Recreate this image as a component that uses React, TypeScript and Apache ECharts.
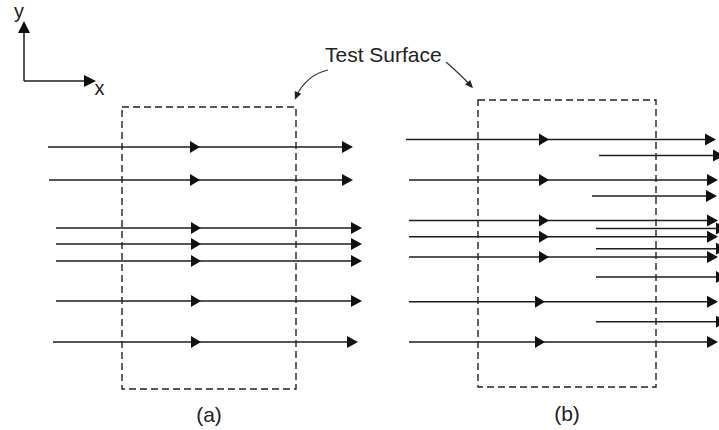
import React, { useEffect, useRef } from "react";
import * as echarts from "echarts";

// ---- Diagram data (canvas units: x 0..719, y 0..430 downward) ----
// Panel (a): full rays [y, xStart, xMidArrowTip, xEndTip]
const raysAY = [147, 180, 228, 244, 261, 301, 342];
const raysAStart = [48, 49, 56, 56, 56, 56, 53];
const raysAMid = [200, 200, 201, 201, 201, 201, 201];
const raysAEnd = [353, 353, 362, 362, 362, 362, 358];

// Panel (b): full rays
const raysBY = [139.5, 180, 220.5, 236.7, 257, 301.7, 342];
const raysBStart = [406, 409, 409, 409, 409, 409, 409];
const raysBMid = [549, 549, 549, 549, 549, 545, 545];
const raysBEnd = [716, 718, 718, 718, 718, 718, 718];

// Panel (b): short rays emerging from the surface
const shortBY = [155.5, 196, 228.5, 248.7, 277, 321.7];
const shortBStart = [599, 592, 596, 596, 596, 596];
const shortBEnd = [724, 717, 727, 727, 727, 727];

// Test surfaces [x1, y1, x2, y2]
const boxX1 = [122, 478];
const boxY1 = [107, 100];
const boxX2 = [296, 656];
const boxY2 = [389, 387];

// Coordinate icon arrows [x1, y1, x2, y2]
const axisArrows = [
  [24, 81, 24, 21],
  [24, 81, 96, 81],
];

// Annotation curves [x1, y1, cpx1, cpy1, cpx2, cpy2, x2, y2]
const curves = [
  [328, 70, 314, 73, 302, 83, 296, 97],
  [446, 62, 454, 69, 463, 77, 471, 86],
];

const LINE = "#1e1e1e";
const HEAD = "#111";

function head(tx: number, ty: number, dx: number, dy: number, L: number, W: number, fill = HEAD) {
  const len = Math.hypot(dx, dy) || 1;
  const ux = dx / len, uy = dy / len;
  const bx = tx - ux * L, by = ty - uy * L;
  const nx = -uy, ny = ux;
  return {
    type: "polygon",
    shape: { points: [[tx, ty], [bx + nx * W, by + ny * W], [bx - nx * W, by - ny * W]] },
    style: { fill },
  };
}

function rayData(ys: number[], s: number[], m: number[], e: number[]) {
  return ys.map((y, i) => [y, s[i], m[i], e[i]]);
}

export default function App() {
  const ref = useRef<HTMLDivElement>(null);
  useEffect(() => {
    if (!ref.current) return;
    const chart = echarts.init(ref.current, undefined, { renderer: "svg" });

    const fullRay = (params: any, api: any) => {
      const y = api.value(0);
      const p0 = api.coord([api.value(1), y]);
      const pm = api.coord([api.value(2), y]);
      const pe = api.coord([api.value(3), y]);
      return {
        type: "group",
        children: [
          { type: "line", shape: { x1: p0[0], y1: p0[1], x2: pe[0] - 5, y2: pe[1] }, style: { stroke: LINE, lineWidth: 1.4 } },
          head(pm[0], pm[1], 1, 0, 10, 6),
          head(pe[0], pe[1], 1, 0, 11, 6),
        ],
      };
    };

    const shortRay = (params: any, api: any) => {
      const y = api.value(0);
      const p0 = api.coord([api.value(1), y]);
      const pe = api.coord([api.value(2), y]);
      return {
        type: "group",
        children: [
          { type: "line", shape: { x1: p0[0], y1: p0[1], x2: pe[0] - 5, y2: pe[1] }, style: { stroke: LINE, lineWidth: 1.4 } },
          head(pe[0], pe[1], 1, 0, 11, 6),
        ],
      };
    };

    const option: any = {
      animation: false,
      backgroundColor: "#fff",
      grid: { left: 0, right: 0, top: 0, bottom: 0 },
      xAxis: { type: "value", min: 0, max: 719, show: false },
      yAxis: { type: "value", min: 0, max: 430, inverse: true, show: false },
      series: [
        {
          type: "custom",
          name: "rays-a",
          clip: false,
          renderItem: fullRay,
          data: rayData(raysAY, raysAStart, raysAMid, raysAEnd),
        },
        {
          type: "custom",
          name: "rays-b",
          clip: false,
          renderItem: fullRay,
          data: rayData(raysBY, raysBStart, raysBMid, raysBEnd),
        },
        {
          type: "custom",
          name: "short-b",
          clip: false,
          renderItem: shortRay,
          data: shortBY.map((y, i) => [y, shortBStart[i], shortBEnd[i]]),
        },
        {
          type: "custom",
          name: "surfaces",
          clip: false,
          renderItem: (params: any, api: any) => {
            const a = api.coord([api.value(0), api.value(1)]);
            const b = api.coord([api.value(2), api.value(3)]);
            return {
              type: "rect",
              shape: { x: a[0], y: a[1], width: b[0] - a[0], height: b[1] - a[1] },
              style: { fill: "none", stroke: "#222", lineWidth: 1.4, lineDash: [7, 4] },
            };
          },
          data: boxX1.map((x, i) => [x, boxY1[i], boxX2[i], boxY2[i]]),
        },
        {
          type: "custom",
          name: "axes-icon",
          clip: false,
          renderItem: (params: any, api: any) => {
            const a = api.coord([api.value(0), api.value(1)]);
            const b = api.coord([api.value(2), api.value(3)]);
            const dx = b[0] - a[0], dy = b[1] - a[1];
            const len = Math.hypot(dx, dy);
            const ex = b[0] - (dx / len) * 6, ey = b[1] - (dy / len) * 6;
            return {
              type: "group",
              children: [
                { type: "line", shape: { x1: a[0], y1: a[1], x2: ex, y2: ey }, style: { stroke: LINE, lineWidth: 1.5 } },
                head(b[0], b[1], dx, dy, 12, 6),
              ],
            };
          },
          data: axisArrows,
        },
        {
          type: "custom",
          name: "callouts",
          clip: false,
          renderItem: (params: any, api: any) => {
            const p1 = api.coord([api.value(0), api.value(1)]);
            const c1 = api.coord([api.value(2), api.value(3)]);
            const c2 = api.coord([api.value(4), api.value(5)]);
            const p2 = api.coord([api.value(6), api.value(7)]);
            const dx = p2[0] - c2[0], dy = p2[1] - c2[1];
            const len = Math.hypot(dx, dy) || 1;
            const tx = p2[0] + (dx / len) * 3, ty = p2[1] + (dy / len) * 3;
            return {
              type: "group",
              children: [
                {
                  type: "bezierCurve",
                  shape: { x1: p1[0], y1: p1[1], cpx1: c1[0], cpy1: c1[1], cpx2: c2[0], cpy2: c2[1], x2: p2[0], y2: p2[1] },
                  style: { fill: "none", stroke: "#333", lineWidth: 1.2 },
                },
                head(tx, ty, dx, dy, 8, 3.5, "#222"),
              ],
            };
          },
          data: curves,
        },
      ],
      graphic: [
        { type: "text", x: 19, y: 11, style: { text: "y", font: "20px 'Liberation Sans', Arial, sans-serif", fill: "#222", align: "center", verticalAlign: "middle" } },
        { type: "text", x: 99.5, y: 88, style: { text: "x", font: "20px 'Liberation Sans', Arial, sans-serif", fill: "#222", align: "center", verticalAlign: "middle" } },
        { type: "text", x: 325, y: 54.5, style: { text: "Test Surface", font: "21px 'Liberation Sans', Arial, sans-serif", fill: "#222", align: "left", verticalAlign: "middle" } },
        { type: "text", x: 209, y: 414, style: { text: "(a)", font: "21px 'Liberation Sans', Arial, sans-serif", fill: "#222", align: "center", verticalAlign: "middle" } },
        { type: "text", x: 567, y: 413, style: { text: "(b)", font: "21px 'Liberation Sans', Arial, sans-serif", fill: "#222", align: "center", verticalAlign: "middle" } },
      ],
    };
    chart.setOption(option);
    return () => chart.dispose();
  }, []);

  return (
    <div
      ref={ref}
      style={{ position: "absolute", left: 0, top: 0, width: 719, height: 430, background: "#fff" }}
    />
  );
}
